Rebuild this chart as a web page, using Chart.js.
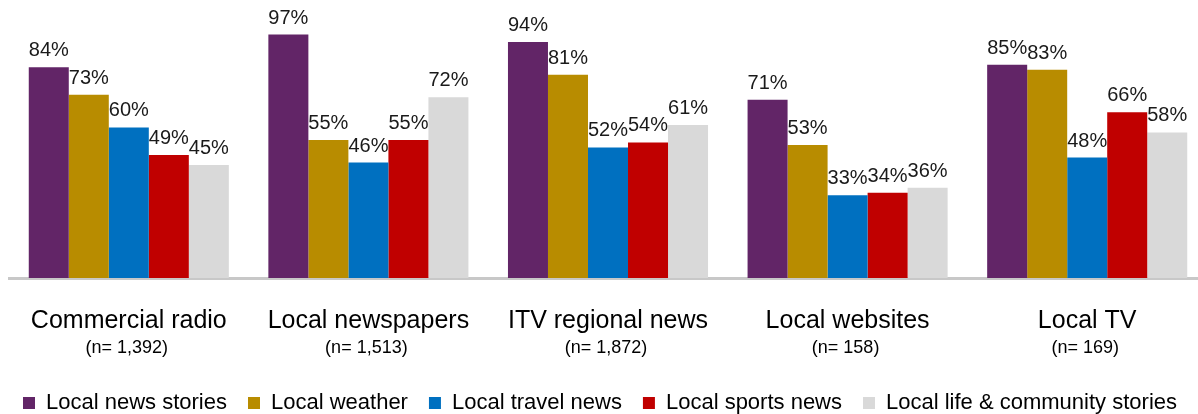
<!DOCTYPE html>
<html>
<head>
<meta charset="utf-8">
<script src="https://cdn.jsdelivr.net/npm/chart.js@4.4.1/dist/chart.umd.min.js"></script>
<style>
  html, body { margin: 0; padding: 0; background: #ffffff; overflow: hidden; }
  #wrap { width: 1198px; height: 414px; position: relative; overflow: hidden; }
  #chart { display: block; }
</style>
</head>
<body>
<div id="wrap"><canvas id="chart" width="1216" height="414"></canvas></div>
<script>
// Platforms and their sample sizes
const categories = ['Commercial radio', 'Local newspapers', 'ITV regional news', 'Local websites', 'Local TV'];
const sampleSizes = ['(n= 1,392)', '(n= 1,513)', '(n= 1,872)', '(n= 158)', '(n= 169)'];

// Share of users who use each platform for each kind of local content (%)
const seriesNames = ['Local news stories', 'Local weather', 'Local travel news', 'Local sports news', 'Local life & community stories'];
const newsStories = [84, 97, 94, 71, 85];
const weather = [73, 55, 81, 53, 83];
const travelNews = [60, 46, 52, 33, 48];
const sportsNews = [49, 55, 54, 34, 66];
const lifeCommunity = [45, 72, 61, 36, 58];

const seriesColors = ['#622567', '#B88C00', '#0070C0', '#C00000', '#D9D9D9'];
const seriesValues = [newsStories, weather, travelNews, sportsNews, lifeCommunity];

const FONT = '"Liberation Sans", Arial, sans-serif';

// Percent labels above every bar
const valueLabels = {
  id: 'valueLabels',
  afterDatasetsDraw(chart) {
    const ctx = chart.ctx;
    ctx.save();
    ctx.font = '20px ' + FONT;
    ctx.fillStyle = '#1a1a1a';
    ctx.textAlign = 'center';
    ctx.textBaseline = 'alphabetic';
    chart.data.datasets.forEach((ds, i) => {
      chart.getDatasetMeta(i).data.forEach((bar, j) => {
        ctx.fillText(ds.data[j] + '%', bar.x, bar.y - 11);
      });
    });
    ctx.restore();
  }
};

// Two-line category labels: platform name and sample size
const categoryLabels = {
  id: 'categoryLabels',
  afterDraw(chart) {
    const ctx = chart.ctx;
    const xs = chart.scales.x;
    const base = chart.chartArea.bottom;
    ctx.save();
    ctx.fillStyle = '#000000';
    ctx.textAlign = 'center';
    ctx.textBaseline = 'alphabetic';
    categories.forEach((name, i) => {
      const x = xs.getPixelForValue(i);
      ctx.font = '25px ' + FONT;
      ctx.fillText(name, x, base + 50);
      ctx.font = '18px ' + FONT;
      ctx.fillText(sampleSizes[i], x - 2, base + 75);
    });
    ctx.restore();
  }
};

// Nudge the legend row into its final place under the axis labels
const legendOffset = {
  id: 'legendOffset',
  afterLayout(chart) {
    const lg = chart.legend;
    if (!lg) return;
    const dx = -8, dy = 10;
    lg.left += dx; lg.right += dx;
    lg.top += dy; lg.bottom += dy;
  }
};

new Chart(document.getElementById('chart'), {
  type: 'bar',
  data: {
    labels: categories,
    datasets: seriesNames.map((name, i) => ({
      label: name,
      data: seriesValues[i],
      backgroundColor: seriesColors[i],
      borderWidth: 0,
      categoryPercentage: 0.835,
      barPercentage: 1.0
    }))
  },
  options: {
    responsive: false,
    animation: false,
    devicePixelRatio: 1,
    layout: { padding: { top: 27, left: 9, right: 9, bottom: 0 } },
    scales: {
      x: {
        grid: { display: false, drawTicks: false },
        border: { display: true, color: '#C8C8C8', width: 3 },
        ticks: { display: false },
        afterFit(scale) {
          const legendH = scale.chart.legend ? scale.chart.legend.height : 0;
          scale.height = 414 - 278 - legendH;
        }
      },
      y: {
        display: false,
        min: 0,
        max: 100
      }
    },
    plugins: {
      legend: {
        position: 'bottom',
        align: 'center',
        labels: {
          font: { family: FONT, size: 22 },
          color: '#000000',
          boxWidth: 12,
          boxHeight: 12,
          padding: 21
        }
      },
      tooltip: { enabled: false }
    }
  },
  plugins: [valueLabels, categoryLabels, legendOffset]
});
</script>
</body>
</html>
